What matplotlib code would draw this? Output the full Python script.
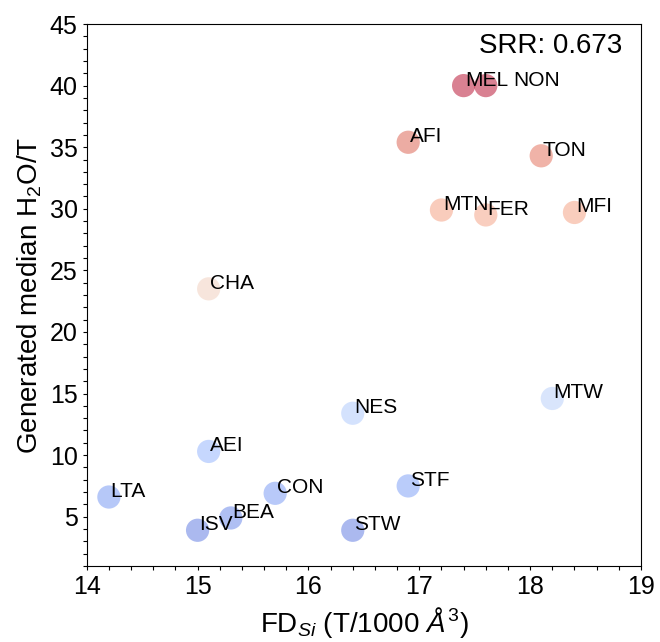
import numpy as np
import matplotlib
matplotlib.use('Agg')
from matplotlib import pyplot as plt
from matplotlib.ticker import MultipleLocator

plt.rcParams['font.family'] = ['Liberation Sans', 'DejaVu Sans']
plt.rcParams['mathtext.fontset'] = 'custom'
plt.rcParams['mathtext.rm'] = 'Liberation Sans'
plt.rcParams['mathtext.it'] = 'Liberation Sans:italic'

# zeolite frameworks, framework density vs generated median H2O/T
names = ['MEL', 'NON', 'AFI', 'TON', 'MTN', 'FER', 'MFI', 'CHA', 'MTW',
         'NES', 'AEI', 'STF', 'CON', 'LTA', 'BEA', 'ISV', 'STW']
fd_si = [17.4, 17.6, 16.9, 18.1, 17.2, 17.6, 18.4, 15.1, 18.2,
         16.4, 15.1, 16.9, 15.7, 14.2, 15.3, 15.0, 16.4]
h2o = [40.0, 40.0, 35.4, 34.3, 29.9, 29.5, 29.7, 23.5, 14.6,
       13.4, 10.3, 7.5, 6.9, 6.6, 4.9, 3.9, 3.9]
srr = 0.673

fig = plt.figure(figsize=(6.6, 6.42), dpi=100)
ax = fig.add_axes([0.1314, 0.1184, 0.8398, 0.8442])

ax.scatter(fd_si, h2o, c=h2o, cmap='coolwarm', s=280, alpha=0.5,
           edgecolors='none', vmin=0, vmax=max(h2o))

for n, x, y in zip(names, fd_si, h2o):
    dx = 20 if n == 'NON' else 1
    ax.annotate(n, (x, y), xytext=(dx, 0), textcoords='offset points',
                fontsize=15, ha='left', va='baseline')

ax.text(0.966, 0.983, f'SRR: {srr}', transform=ax.transAxes,
        ha='right', va='top', fontsize=20)

ax.set_xlim(14, 19)
ax.set_ylim(1, 45)
ax.xaxis.set_major_locator(MultipleLocator(1))
ax.xaxis.set_minor_locator(MultipleLocator(0.2))
ax.yaxis.set_major_locator(MultipleLocator(5))
ax.yaxis.set_minor_locator(MultipleLocator(1))
ax.tick_params(which='both', direction='out', length=3, width=0.8,
               labelsize=18)

ax.set_xlabel(r'FD$_{Si}$ (T/1000 $Å^3$)', fontsize=20)
ax.set_ylabel(r'Generated median H$_2$O/T', fontsize=20)

fig.savefig('out.png', dpi=100)
